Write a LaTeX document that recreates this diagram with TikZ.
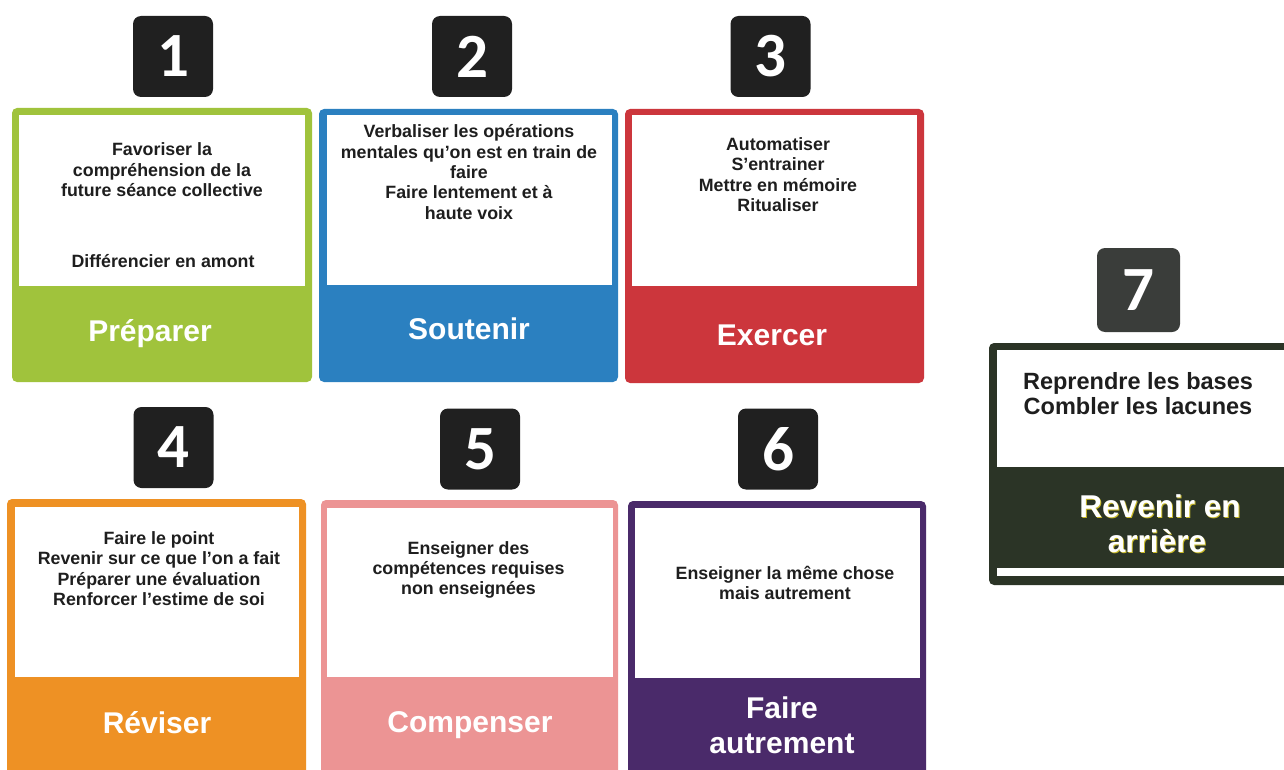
\documentclass[tikz,border=0pt]{standalone}
\usepackage{fontspec}
\setmainfont{Liberation Sans}
\newfontfamily\digitfont{Carlito}
\definecolor{cgreen}{RGB}{160,195,60}
\definecolor{cblue}{RGB}{43,128,192}
\definecolor{cred}{RGB}{204,54,60}
\definecolor{corange}{RGB}{238,145,36}
\definecolor{cpink}{RGB}{236,148,148}
\definecolor{cpurple}{RGB}{74,42,106}
\definecolor{cdark}{RGB}{43,52,38}
\definecolor{cbadge}{RGB}{32,32,32}
\definecolor{cbadgeb}{RGB}{58,61,58}
\definecolor{cbody}{RGB}{30,30,30}
\definecolor{cshadow}{RGB}{200,185,40}
\begin{document}
\begin{tikzpicture}[x=1pt,y=-1pt,
  badge/.style={fill=cbadge, rounded corners=8pt, minimum width=80pt, minimum height=81pt,
    inner sep=0pt, text=white, font=\digitfont\bfseries\fontsize{63}{63}\selectfont},
  bodytext/.style={align=center, text=cbody, inner sep=0pt,
    font=\bfseries\fontsize{17.8}{20.4}\selectfont},
  bigbody/.style={align=center, text=cbody, inner sep=0pt,
    font=\bfseries\fontsize{23.5}{25}\selectfont},
  lab/.style={anchor=base, text=white, inner sep=0pt,
    font=\bfseries\fontsize{30}{35}\selectfont},
  biglab/.style={anchor=base, text=white, inner sep=0pt,
    font=\bfseries\fontsize{31.5}{35}\selectfont},
  cardround/.style={rounded corners=5pt}]
\useasboundingbox (0,0) rectangle (1284,770);
\clip (0,0) rectangle (1284,770);
\fill[white] (0,0) rectangle (1284,770);

% ---- card 1
\fill[cgreen, cardround] (12,108) rectangle (312,382);
\fill[white] (19,115) rectangle (305,286);
% ---- card 2
\fill[cblue, cardround] (319,109) rectangle (618,382);
\fill[white] (327,115) rectangle (612,285);
% ---- card 3
\fill[cred, cardround] (625,109) rectangle (924,383);
\fill[white] (632,115) rectangle (917,286);
% ---- card 4
\fill[corange, cardround] (7,499) rectangle (306,790);
\fill[white] (15,507) rectangle (299,677);
% ---- card 5
\fill[cpink, cardround] (321,500) rectangle (618,790);
\fill[white] (327,508) rectangle (613,677);
% ---- card 6
\fill[cpurple, cardround] (628,501) rectangle (926,790);
\fill[white] (635,508) rectangle (920,678);
% ---- card 7
\fill[cdark, cardround] (989,343) rectangle (1300,585);
\fill[white] (997,350) rectangle (1300,467);
\fill[white] (997,568) rectangle (1300,576);

% ---- badges
\node[badge] (b1) at (173,56.5) {1};
\node[badge] (b2) at (472,56.5) {2};
\node[badge] (b3) at (770.5,56.5) {3};
\node[badge] (b4) at (173.5,447.5) {4};
\node[badge] (b5) at (480,449) {5};
\node[badge] (b6) at (778,449) {6};
\node[badge, fill=cbadgeb, minimum width=83pt, minimum height=84pt] (b7) at (1138.5,290) {7};

% ---- body texts
\node[bodytext] (t1) at (162,170) {Favoriser la\\compréhension de la\\future séance collective};
\node[bodytext] (t1b) at (163,261) {Différencier en amont};
\node[bodytext] (t2) at (469,172) {Verbaliser les opérations\\mentales qu'on est en train de\\faire\\Faire lentement et à\\haute voix};
\node[bodytext] (t3) at (778,174.5) {Automatiser\\S'entrainer\\Mettre en mémoire\\Ritualiser};
\node[bodytext] (t4) at (159,568.5) {Faire le point\\Revenir sur ce que l’on a fait\\Préparer une évaluation\\Renforcer l’estime de soi};
\node[bodytext] (t5) at (468.5,570) {Enseigner des\\compétences requises\\non enseignées};
\node[bodytext] (t6) at (785,583) {Enseigner la même chose\\mais autrement};
\node[bigbody] (t7) at (1138,393.5) {Reprendre les bases\\Combler les lacunes};

% ---- labels
\node[lab] (l1) at (150,341) {Préparer};
\node[lab] (l2) at (469,339) {Soutenir};
\node[lab] (l3) at (772,345) {Exercer};
\node[lab] (l4) at (157,733) {Réviser};
\node[lab] (l5) at (470,732) {Compenser};
\node[lab] (l6a) at (782,718) {Faire};
\node[lab] (l6b) at (782,753) {autrement};
\node[biglab, text=cshadow] (l7as) at (1161,518) {Revenir en};
\node[biglab, text=cshadow] (l7bs) at (1158,553) {arrière};
\node[biglab] (l7a) at (1160,517) {Revenir en};
\node[biglab] (l7b) at (1157,552) {arrière};
\end{tikzpicture}
\end{document}
